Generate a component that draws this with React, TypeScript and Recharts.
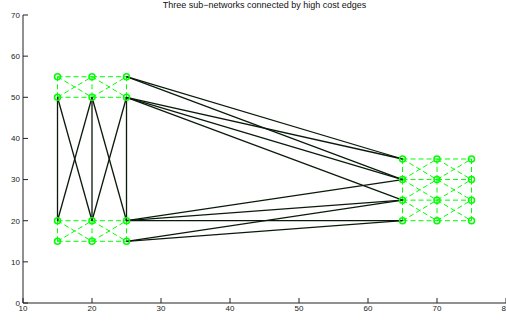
import React from "react";
import { ScatterChart, Scatter, XAxis, YAxis, ReferenceLine } from "recharts";

const title = "Three sub\u2212networks connected by high cost edges";
const xTicks = [10, 20, 30, 40, 50, 60, 70, 80];
const yTicks = [0, 10, 20, 30, 40, 50, 60, 70];

const clusterA = [[15, 55], [20, 55], [25, 55], [15, 50], [20, 50], [25, 50]];
const clusterB = [[15, 20], [20, 20], [25, 20], [15, 15], [20, 15], [25, 15]];
const clusterC = [
  [65, 35], [70, 35], [75, 35],
  [65, 30], [70, 30], [75, 30],
  [65, 25], [70, 25], [75, 25],
  [65, 20], [70, 20], [75, 20],
];

const greenEdgesA = [
  [15, 55, 20, 55], [20, 55, 25, 55], [15, 50, 20, 50], [20, 50, 25, 50],
  [15, 50, 15, 55], [20, 50, 20, 55], [25, 50, 25, 55],
  [15, 50, 20, 55], [15, 55, 20, 50], [20, 50, 25, 55], [20, 55, 25, 50],
];
const greenEdgesB = [
  [15, 20, 20, 20], [20, 20, 25, 20], [15, 15, 20, 15], [20, 15, 25, 15],
  [15, 15, 15, 20], [20, 15, 20, 20], [25, 15, 25, 20],
  [15, 15, 20, 20], [15, 20, 20, 15], [20, 15, 25, 20], [20, 20, 25, 15],
];
const greenEdgesC = [
  [65, 35, 70, 35], [70, 35, 75, 35], [65, 30, 70, 30], [70, 30, 75, 30],
  [65, 25, 70, 25], [70, 25, 75, 25], [65, 20, 70, 20], [70, 20, 75, 20],
  [65, 35, 65, 30], [65, 30, 65, 25], [65, 25, 65, 20],
  [70, 35, 70, 30], [70, 30, 70, 25], [70, 25, 70, 20],
  [75, 35, 75, 30], [75, 30, 75, 25], [75, 25, 75, 20],
  [65, 35, 70, 30], [65, 30, 70, 35], [70, 35, 75, 30], [70, 30, 75, 35],
  [65, 30, 70, 25], [65, 25, 70, 30], [70, 30, 75, 25], [70, 25, 75, 30],
  [65, 25, 70, 20], [65, 20, 70, 25], [70, 25, 75, 20], [70, 20, 75, 25],
];
const blackEdges = [
  [15, 50, 15, 20], [20, 50, 20, 20], [25, 50, 25, 20],
  [15, 50, 20, 20], [20, 50, 15, 20], [20, 50, 25, 20], [25, 50, 20, 20],
  [25, 55, 65, 35], [25, 55, 65, 30],
  [25, 50, 65, 35], [25, 50, 65, 30], [25, 50, 65, 25],
  [25, 20, 65, 30], [25, 20, 65, 25], [25, 20, 65, 20],
  [25, 15, 65, 25], [25, 15, 65, 20],
];

const nodes = [...clusterA, ...clusterB, ...clusterC].map(([x, y]) => ({ x, y }));
const greenEdges = [...greenEdgesA, ...greenEdgesB, ...greenEdgesC];

const GREEN = "#00ff00";
const FONT = "'Liberation Sans', Arial, Helvetica, sans-serif";

const NodeShape = (props: any) => (
  <circle cx={props.cx} cy={props.cy} r={3} fill="none" stroke={GREEN} strokeWidth={1.5} />
);

export default function App() {
  return (
    <div style={{ position: "absolute", left: 0, top: 0, width: 506, height: 324, background: "#fff" }}>
      <ScatterChart width={506} height={324} margin={{ top: 15, right: 0, bottom: 0, left: 0 }}>
        <XAxis
          type="number"
          dataKey="x"
          domain={[10, 80]}
          ticks={xTicks}
          interval={0}
          height={21}
          tickSize={-5}
          tickMargin={7}
          axisLine={{ stroke: "#222", strokeWidth: 1 }}
          tickLine={{ stroke: "#222" }}
          tick={{ fill: "#222", fontSize: 8, fontFamily: FONT }}
          allowDataOverflow
        />
        <YAxis
          type="number"
          dataKey="y"
          domain={[0, 70]}
          ticks={yTicks}
          interval={0}
          width={23}
          tickSize={-5}
          tickMargin={8}
          axisLine={{ stroke: "#222", strokeWidth: 1 }}
          tickLine={{ stroke: "#222" }}
          tick={{ fill: "#222", fontSize: 8, fontFamily: FONT }}
          allowDataOverflow
        />
        {greenEdges.map(([x1, y1, x2, y2], i) => (
          <ReferenceLine
            key={"g" + i}
            segment={[{ x: x1, y: y1 }, { x: x2, y: y2 }]}
            stroke={GREEN}
            strokeWidth={1}
            strokeDasharray="5 3"
            ifOverflow="visible"
          />
        ))}
        {blackEdges.map(([x1, y1, x2, y2], i) => (
          <ReferenceLine
            key={"k" + i}
            segment={[{ x: x1, y: y1 }, { x: x2, y: y2 }]}
            stroke="#0a1a0a"
            strokeWidth={1.3}
            ifOverflow="visible"
          />
        ))}
        <Scatter data={nodes} shape={NodeShape} isAnimationActive={false} />
        <text x={264.5} y={8} textAnchor="middle" fontSize={9} fontFamily={FONT} fill="#111">
          {title}
        </text>
      </ScatterChart>
    </div>
  );
}
